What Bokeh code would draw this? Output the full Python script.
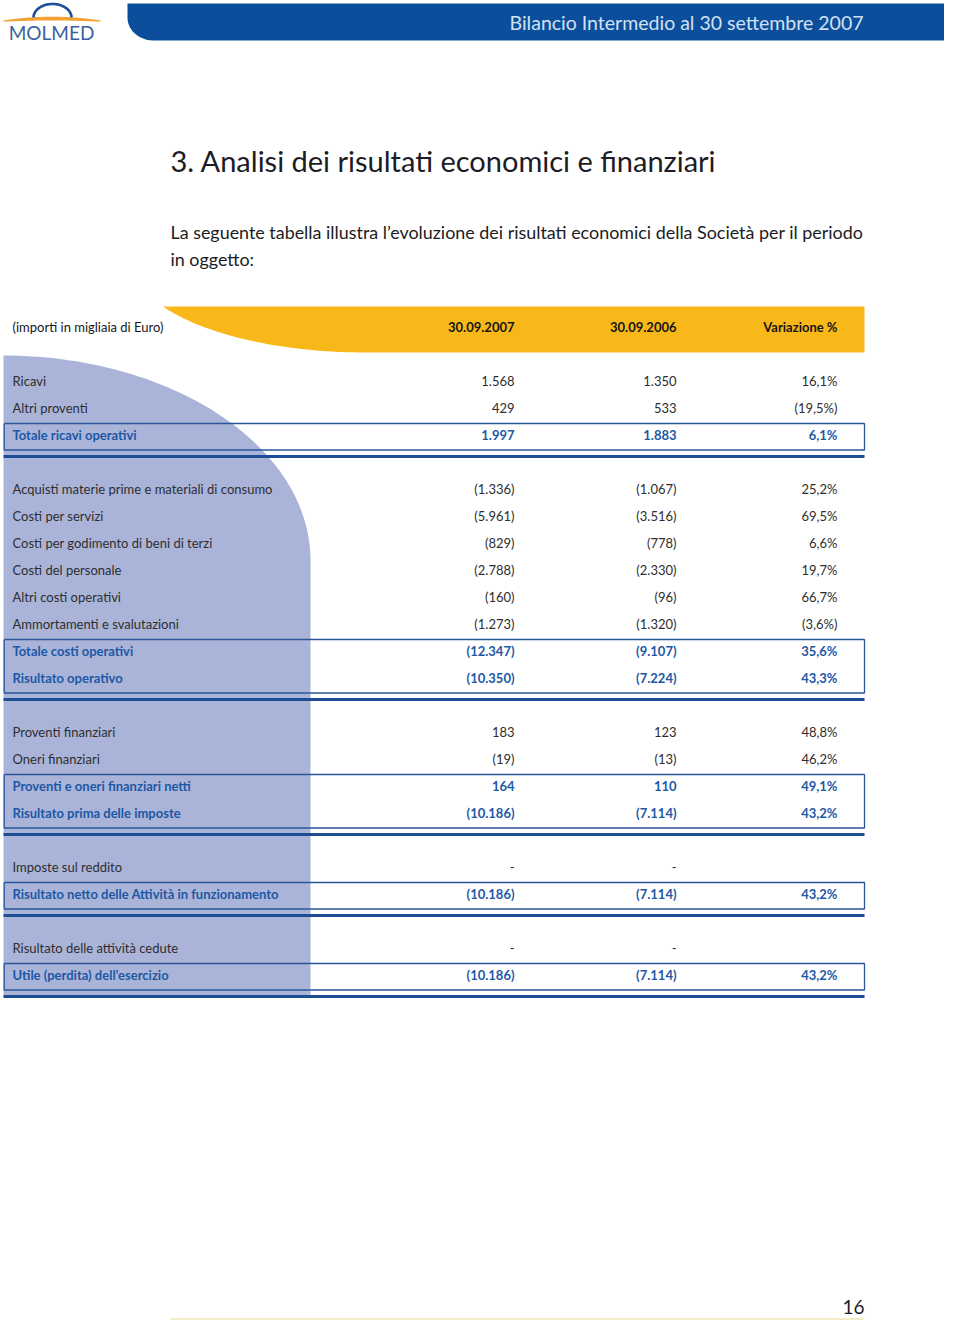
import numpy as np
from bokeh.plotting import figure
from bokeh.models import Range1d, ColumnDataSource
from bokeh.core.properties import value
from bokeh.embed import file_html
from bokeh.resources import INLINE

# ---------------- data ----------------
page_title = "Bilancio Intermedio al 30 settembre 2007"
logo_text = "MOLMED"
section_title = "3. Analisi dei risultati economici e finanziari"
intro_lines = [
    "La seguente tabella illustra l\u2019evoluzione dei risultati economici della Societ\u00e0 per il periodo",
    "in oggetto:",
]
header_labels = ["(importi in migliaia di Euro)", "30.09.2007", "30.09.2006", "Variazione %"]

row_labels = [
    "Ricavi", "Altri proventi", "Totale ricavi operativi",
    "Acquisti materie prime e materiali di consumo", "Costi per servizi",
    "Costi per godimento di beni di terzi", "Costi del personale",
    "Altri costi operativi", "Ammortamenti e svalutazioni",
    "Totale costi operativi", "Risultato operativo",
    "Proventi finanziari", "Oneri finanziari",
    "Proventi e oneri finanziari netti", "Risultato prima delle imposte",
    "Imposte sul reddito", "Risultato netto delle Attivit\u00e0 in funzionamento",
    "Risultato delle attivit\u00e0 cedute", "Utile (perdita) dell\u2019esercizio",
]
values_2007 = [
    "1.568", "429", "1.997",
    "(1.336)", "(5.961)", "(829)", "(2.788)", "(160)", "(1.273)", "(12.347)", "(10.350)",
    "183", "(19)", "164", "(10.186)",
    "-", "(10.186)",
    "-", "(10.186)",
]
values_2006 = [
    "1.350", "533", "1.883",
    "(1.067)", "(3.516)", "(778)", "(2.330)", "(96)", "(1.320)", "(9.107)", "(7.224)",
    "123", "(13)", "110", "(7.114)",
    "-", "(7.114)",
    "-", "(7.114)",
]
variation_pct = [
    "16,1%", "(19,5%)", "6,1%",
    "25,2%", "69,5%", "6,6%", "19,7%", "66,7%", "(3,6%)", "35,6%", "43,3%",
    "48,8%", "46,2%", "49,1%", "43,2%",
    "", "43,2%",
    "", "43,2%",
]
is_total = [0, 0, 1, 0, 0, 0, 0, 0, 0, 1, 1, 0, 0, 1, 1, 0, 1, 0, 1]
section = [0, 0, 0, 1, 1, 1, 1, 1, 1, 1, 1, 2, 2, 2, 2, 3, 3, 4, 4]
page_number = "16"

# ---------------- styles / layout ----------------
FONT = value("Lato")
FS = "13px"
C_TEXT = "#2e2e2e"
C_BOLD = "#1d58a4"
C_HEAD = "#161616"
C_LINE = "#2a5599"
C_THICK = "#1c4d95"
C_LAV = "#aab4d9"
C_YEL = "#f9b81a"
C_BAR = "#0b4f9c"

W, H = 944, 1320
L, R = 3, 864
COLX = [12, 514, 676, 837]
FIRST_Y, PITCH, GAP_LINE, GAP_NEXT = 380, 27, 22, 32

# row positions
ys = []
thick_lines = []
for i, s in enumerate(section):
    if i == 0:
        y = FIRST_Y
    elif s != section[i - 1]:
        t = ys[-1] + GAP_LINE
        thick_lines.append(t)
        y = t + GAP_NEXT
    else:
        y = ys[-1] + PITCH
    ys.append(y)
thick_lines.append(ys[-1] + GAP_LINE)

# boxes around total rows (per section)
boxes = []
for s in sorted(set(section)):
    idx = [i for i in range(len(section)) if section[i] == s and is_total[i]]
    if idx:
        boxes.append((ys[idx[0]] - 11, ys[idx[-1]] + 15.5))

p = figure(width=W, height=H, x_range=Range1d(0, W), y_range=Range1d(H, 0),
           output_backend="svg", toolbar_location=None, min_border=0)
p.axis.visible = False
p.grid.visible = False
p.outline_line_color = None
p.background_fill_color = "white"

# ---- top blue bar with rounded bottom-left corner
t = np.linspace(0, np.pi / 2, 30)
bx = [127] + list(153 - 26 * np.cos(t)) + [960, 960]
by = [3] + list(17 + 23 * np.sin(t)) + [40, 3]
p.patch(bx, by, fill_color=C_BAR, line_color=None)
p.text(x=[863], y=[22], text=[page_title], text_align="right", text_baseline="middle",
       text_font=FONT, text_font_size="19.5px", text_color="#d3e0f0")

# ---- logo
u = np.linspace(-1, 1, 60)
lx = 51.5 + 48.5 * u
top = 20 - 3.8 * (1 - u ** 2)
bot = 21.2 - 1.2 * (1 - u ** 2)
p.patch(list(lx) + list(lx[::-1]), list(top) + list(bot[::-1]), fill_color="#f2a233", line_color=None)
a = np.linspace(0, np.pi, 60)
p.line(52 + 19 * np.cos(a), 17 - 13.5 * np.sin(a), line_color="#1d4e98", line_width=2.6)
p.text(x=[51], y=[32], text=[logo_text], text_align="center", text_baseline="middle",
       text_font=FONT, text_font_size="19px", text_color="#3a5f9c")

# ---- title and intro
p.text(x=[170], y=[160], text=[section_title], text_align="left", text_baseline="middle",
       text_font=FONT, text_font_size="29px", text_color="#1c1c24")
p.text(x=[170, 170], y=[231, 258], text=intro_lines, text_align="left", text_baseline="middle",
       text_font=FONT, text_font_size="17.9px", text_color="#1c1c24")

# ---- yellow header band
tt = np.linspace(np.arcsin(46 / 92), np.pi / 2, 40)
cx = 365 - 234 * np.cos(tt)
cy = 260 + 92 * np.sin(tt)
yx = [cx[0]] + list(cx) + [R, R]
yy = [306] + list(cy) + [352, 306]
p.patch(yx, yy, fill_color=C_YEL, line_color=None)

# ---- lavender shape
e = np.linspace(0, np.pi / 2, 60)
lavx = list(3 + 307 * np.sin(e)) + [310, 3]
lavy = list(560 - 205 * np.cos(e)) + [thick_lines[-1], thick_lines[-1]]
p.patch(lavx, lavy, fill_color=C_LAV, line_color=None)

# ---- header texts
p.text(x=[COLX[0]], y=[326], text=[header_labels[0]], text_align="left", text_baseline="middle",
       text_font=FONT, text_font_size=FS, text_color=C_HEAD)
p.text(x=COLX[1:], y=[326] * 3, text=header_labels[1:], text_align="right", text_baseline="middle",
       text_font=FONT, text_font_size=FS, text_font_style="bold", text_color=C_HEAD)

# ---- boxes and thick lines
for (b0, b1) in boxes:
    p.line([L + 0.7, R, R, L + 0.7, L + 0.7], [b0, b0, b1, b1, b0], line_color=C_LINE, line_width=1.3)
for tl in thick_lines:
    p.line([L, R], [tl, tl], line_color=C_THICK, line_width=3)

# ---- table rows
def subset(flag):
    keep = [i for i in range(len(ys)) if is_total[i] == flag]
    return ColumnDataSource(dict(
        y=[ys[i] for i in keep],
        lab=[row_labels[i] for i in keep],
        v1=[values_2007[i] for i in keep],
        v2=[values_2006[i] for i in keep],
        v3=[variation_pct[i] for i in keep],
    ))

for src, col, style in [(subset(0), C_TEXT, "normal"), (subset(1), C_BOLD, "bold")]:
    p.text(x=COLX[0], y="y", text="lab", source=src, text_align="left", text_baseline="middle",
           text_font=FONT, text_font_size=FS, text_font_style=style, text_color=col)
    for cxp, field in zip(COLX[1:], ["v1", "v2", "v3"]):
        p.text(x=cxp, y="y", text=field, source=src, text_align="right", text_baseline="middle",
               text_font=FONT, text_font_size=FS, text_font_style=style, text_color=col)

# ---- footer
p.line([170, R], [H - 1.5, H - 1.5], line_color="#e6d98f", line_width=1.2)
p.text(x=[R], y=[1306], text=[page_number], text_align="right", text_baseline="middle",
       text_font=FONT, text_font_size="19px", text_color="#1c1c24")

open("out.html", "w").write(file_html(p, INLINE))
